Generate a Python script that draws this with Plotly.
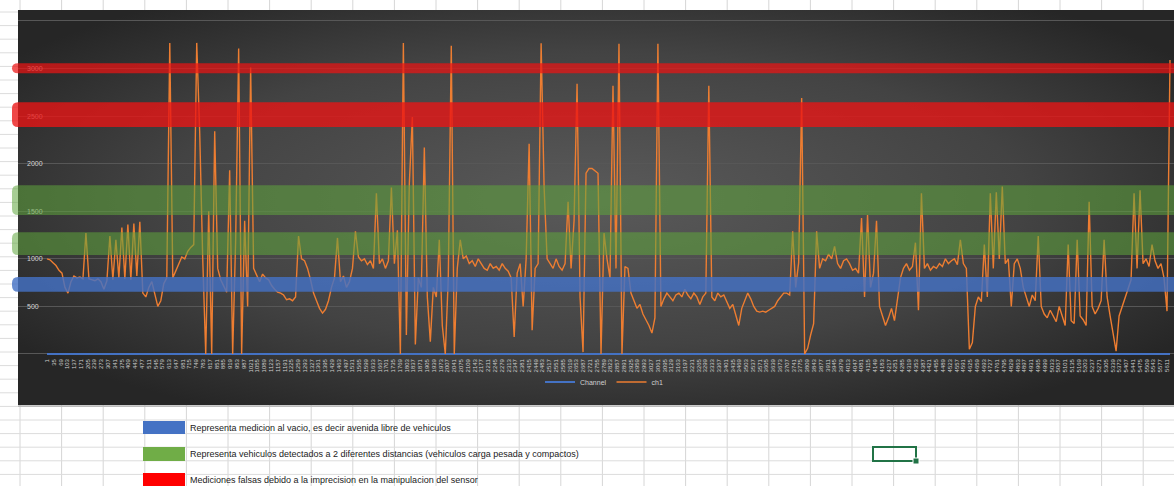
import base64
import plotly.graph_objects as go

# ---------------------------------------------------------------- data
# Distance readings of the sensor (ch1) and the empty reference channel
ch1 = [
    1000, 990, 960, 930, 880, 850, 700, 640, 760, 820,
    800, 810, 790, 1270, 790, 780, 770, 790, 760, 680,
    770, 1240, 780, 1200, 800, 1330, 790, 1360, 780, 1370,
    820, 1390, 640, 600, 700, 760, 620, 500, 560, 740,
    800, 3270, 800, 880, 960, 1020, 1000, 1080, 1120, 1150,
    3270, 2320, 1000, 0, 1500, 0, 2340, 900, 780, 720,
    650, 1930, 0, 1200, 3210, 0, 1400, 500, 3010, 900,
    820, 760, 840, 800, 780, 720, 680, 650, 640, 620,
    570, 580, 560, 600, 1240, 1000, 980, 900, 780, 640,
    560, 480, 430, 470, 560, 700, 800, 1220, 760, 820,
    700, 760, 900, 1290, 1020, 980, 1000, 940, 980, 900,
    1690, 950, 1000, 900, 980, 1750, 950, 1300, 0, 3270,
    200, 1800, 2490, 100, 800, 700, 2170, 600, 130, 700,
    600, 1200, 300, 0, 800, 3240, 0, 900, 1200, 1000,
    1030, 950, 980, 920, 1000, 950, 900, 880, 950, 900,
    920, 880, 950, 900, 870, 800, 180, 850, 950, 500,
    1000, 2210, 250, 900, 950, 3265, 1750, 1000, 950, 900,
    1000, 920, 880, 950, 1600, 900, 1400, 2840, 600, 20,
    1900, 1950, 1950, 1920, 1900, 0, 1270, 1000, 800, 2820,
    900, 3260, 0, 920, 900, 640, 560, 480, 520, 420,
    360, 300, 220, 380, 3260, 500, 580, 640, 600, 560,
    620, 640, 600, 680, 620, 580, 640, 600, 520, 600,
    640, 2820, 600, 560, 640, 600, 620, 540, 480, 520,
    420, 300, 480, 560, 640, 580, 500, 450, 440, 450,
    440, 460, 480, 500, 560, 600, 640, 640, 620, 1290,
    700, 960, 2690, 0, 60, 200, 320, 1290, 900, 1000,
    980, 1050, 1000, 1130, 950, 900, 980, 1000, 950, 880,
    900, 850, 1430, 600, 1460, 700, 850, 1400, 500, 400,
    300, 380, 480, 350, 560, 800, 900, 950, 880, 920,
    1170, 460, 1690, 900, 950, 880, 920, 900, 950, 920,
    1000, 950, 980, 1000, 940, 1200, 950, 900, 50, 120,
    500, 600, 550, 1150, 600, 1690, 900, 1700, 1000, 1760,
    950, 1000, 500, 950, 1000, 900, 700, 600, 500, 620,
    560, 1240, 500, 420, 380, 460, 400, 340, 500, 400,
    300, 1150, 350, 320, 1200, 400, 360, 300, 1600, 500,
    420, 480, 560, 1200, 600, 400, 200, 30, 400, 500,
    600, 700, 780, 1690, 900, 1720, 950, 1000, 920, 1150,
    980, 900, 950, 800, 450, 3090,
]
channel = [0] * len(ch1)

SAMPLE_STEP = 15          # sample number spacing between stored readings
LABEL_STEP = 34           # category label interval on the x axis
samples = [1 + i * SAMPLE_STEP for i in range(len(ch1))]

# Reference bands (value ranges) highlighted on the chart
band_low = [2950, 2385, 1460, 1040, 655]
band_high = [3055, 2645, 1775, 1280, 810]
band_fill = [
    "rgba(235,20,20,0.72)",
    "rgba(235,20,20,0.78)",
    "rgba(95,165,60,0.55)",
    "rgba(95,165,60,0.55)",
    "rgba(68,114,196,0.82)",
]

legend_notes = [
    "Representa medicion al vacio, es decir avenida libre de vehiculos",
    "Representa vehiculos detectados a 2 diferentes distancias (vehiculos carga pesada y compactos)",
    "Mediciones falsas debido a la imprecision en la manipulacion del sensor",
]
legend_colors = ["#4472c4", "#70ad47", "#ff0000"]

# ---------------------------------------------------------------- geometry
W, H = 1174, 486
BOX = (18, 10, 1174, 405)          # dark chart area (x0, y0, x1, y1) in px
ZERO_PX, TOP_PX = 354, 21          # pixel rows of 0 and 3500
FIRST_PX, LAST_PX = 47, 1170       # pixel columns of first / last reading
COL_X0, COL_W = 20, 41.6           # worksheet columns
ROW_Y0, ROW_H = 420, 13.6          # worksheet rows


def fx(px):
    return px / W


def fy(py):
    return 1 - py / H


# y axis: 0..3500 with a small pad so the zero line is not clipped
pad = 30
scale = (ZERO_PX - TOP_PX) / 3500.0
y_dom = [fy(ZERO_PX + pad * scale), fy(TOP_PX - pad * scale)]
y_rng = [-pad, 3500 + pad]

# x axis range so that the readings span FIRST_PX..LAST_PX
upp = (samples[-1] - samples[0]) / (LAST_PX - FIRST_PX)
x_rng = [samples[0] - (FIRST_PX - BOX[0]) * upp, samples[-1] + (W - LAST_PX) * upp]

# ---------------------------------------------------------------- worksheet backdrop
svg = [f'<svg xmlns="http://www.w3.org/2000/svg" width="{W}" height="{H}" viewBox="0 0 {W} {H}">',
       '<defs><radialGradient id="g" cx="0.5" cy="0.48" r="0.62">'
       '<stop offset="0" stop-color="#5a5a5a"/><stop offset="0.6" stop-color="#434343"/>'
       '<stop offset="1" stop-color="#262626"/></radialGradient></defs>',
       f'<rect width="{W}" height="{H}" fill="#ffffff"/>']
cx = COL_X0
while cx < W:
    svg.append(f'<line x1="{cx:.1f}" y1="0" x2="{cx:.1f}" y2="{H}" stroke="#d6d6d6" stroke-width="1"/>')
    cx += COL_W
ry = ROW_Y0
while ry > 0:
    ry -= ROW_H
ry += ROW_H
while ry < H:
    svg.append(f'<line x1="0" y1="{ry:.1f}" x2="{W}" y2="{ry:.1f}" stroke="#dcdcdc" stroke-width="1"/>')
    ry += ROW_H
svg.append(f'<rect x="{BOX[0]}" y="{BOX[1] + 2}" width="{BOX[2] - BOX[0]}" height="{BOX[3] - BOX[1]}" fill="#9a9a9a" opacity="0.5"/>')
svg.append(f'<rect x="{BOX[0]}" y="{BOX[1]}" width="{BOX[2] - BOX[0]}" height="{BOX[3] - BOX[1]}" fill="url(#g)"/>')
svg.append('</svg>')
bg_uri = "data:image/svg+xml;base64," + base64.b64encode("".join(svg).encode()).decode()

# ---------------------------------------------------------------- figure
fig = go.Figure()
fig.add_trace(go.Scatter(x=samples, y=channel, name="Channel", mode="lines",
                         line=dict(color="#4472c4", width=2.2)))
fig.add_trace(go.Scatter(x=samples, y=ch1, name="ch1", mode="lines",
                         line=dict(color="#ed7d31", width=1.4)))

shapes = []
# highlighted bands with rounded left ends
rx = 6 / W
bx0 = fx(12)
for lo, hi, col in zip(band_low, band_high, band_fill):
    r = min((hi - lo) / 2.0, 6 / scale)
    path = (f"M {bx0 + rx},{hi} L 1,{hi} L 1,{lo} L {bx0 + rx},{lo} "
            f"Q {bx0},{lo} {bx0},{lo + r} L {bx0},{hi - r} Q {bx0},{hi} {bx0 + rx},{hi} Z")
    shapes.append(dict(type="path", path=path, xref="paper", yref="y",
                       fillcolor=col, line=dict(width=0), layer="above"))

# colour keys in the worksheet cells
key_rows = [(421, 434), (447, 461), (473, 487)]
for (t, b), col in zip(key_rows, legend_colors):
    shapes.append(dict(type="rect", xref="paper", yref="paper",
                       x0=fx(143), x1=fx(185), y0=fy(b), y1=fy(t),
                       fillcolor=col, line=dict(width=0)))

# selected worksheet cell
shapes.append(dict(type="rect", xref="paper", yref="paper",
                   x0=fx(873), x1=fx(916), y0=fy(461), y1=fy(447),
                   line=dict(color="#217346", width=2), fillcolor="rgba(0,0,0,0)"))
shapes.append(dict(type="rect", xref="paper", yref="paper",
                   x0=fx(913), x1=fx(919), y0=fy(464), y1=fy(458),
                   line=dict(color="#ffffff", width=1), fillcolor="#217346"))

annotations = []
for (t, b), txt in zip(key_rows, legend_notes):
    annotations.append(dict(text=txt, xref="paper", yref="paper",
                            x=fx(188), y=fy((t + b) / 2), xanchor="left", yanchor="middle",
                            showarrow=False,
                            font=dict(family="Liberation Sans, Arial", size=9, color="#222222")))

fig.update_layout(
    width=W, height=H, autosize=False,
    margin=dict(l=0, r=0, t=0, b=0, pad=0),
    paper_bgcolor="#ffffff", plot_bgcolor="rgba(0,0,0,0)",
    font=dict(family="Liberation Sans, Arial", color="#d0d0d0"),
    images=[dict(source=bg_uri, xref="paper", yref="paper", x=0, y=1,
                 sizex=1, sizey=1, xanchor="left", yanchor="top",
                 sizing="stretch", layer="below")],
    shapes=shapes,
    annotations=annotations,
    showlegend=True,
    legend=dict(orientation="h", x=fx(604), y=fy(382), xanchor="center", yanchor="middle",
                bgcolor="rgba(0,0,0,0)", font=dict(size=7, color="#d0d0d0"),
                itemwidth=30, tracegroupgap=0),
    xaxis=dict(domain=[fx(BOX[0]), 1], range=x_rng, showgrid=False, zeroline=False,
               showline=False, ticks="", tickmode="linear", tick0=samples[0], dtick=LABEL_STEP,
               tickangle=-90, tickfont=dict(size=6, color="#cfcfcf"), fixedrange=True),
    yaxis=dict(domain=y_dom, range=y_rng, tickmode="linear", tick0=0, dtick=500,
               showgrid=True, gridcolor="#575757", gridwidth=1, zeroline=False,
               showline=False, ticks="", ticklabelposition="inside", ticklabelstandoff=6,
               tickfont=dict(size=7, color="#d6d6d6"), fixedrange=True),
)

fig.write_html("out.html", config={"displayModeBar": False})
